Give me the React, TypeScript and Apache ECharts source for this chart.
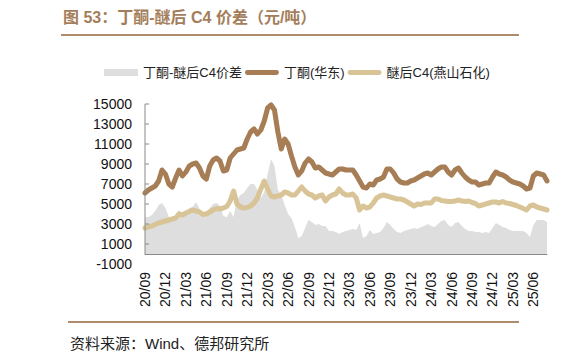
import React, { useEffect, useRef } from "react";
import * as echarts from "echarts";

// semi-monthly sample dates, 2020-09-01 .. 2025-08-01
const dates: string[] = [];
for (let m = 0; m < 60; m++) {
  const y = 2020 + Math.floor((8 + m) / 12);
  const mo = ((8 + m) % 12) + 1;
  const mm = mo < 10 ? "0" + mo : "" + mo;
  dates.push(`${y}-${mm}-01`);
  if (m < 59) dates.push(`${y}-${mm}-16`);
}

const butanone = [
  6100, 6400, 6600, 6800, 7300, 8400, 8000, 7000, 6700, 7600,
  8400, 7800, 8200, 8800, 9000, 9100, 8600, 7800, 7500, 8800,
  9400, 9600, 9300, 8300, 8400, 9600, 10000, 10400, 10500, 10600,
  11500, 12200, 12500, 12000, 12400, 13300, 14600, 14900, 14400, 12200,
  10500, 11500, 11000, 9800, 8700, 7900, 8300, 9100, 9500, 9200,
  8600, 8700, 8400, 8100, 8000, 7900, 8200, 8500, 8500, 8400,
  8400, 8400, 7900, 7300, 6700, 6600, 7000, 6900, 7400, 7500,
  7700, 8500, 8500, 8100, 7500, 7200, 7100, 7100, 7300, 7400,
  7600, 7800, 8000, 8100, 7900, 8200, 8500, 8700, 8700, 8200,
  7900, 8400, 8600, 8100, 7700, 7400, 7200, 7200, 6900, 7000,
  7100, 7100, 7700, 8200, 8000, 7900, 7700, 7400, 7200, 7100,
  7000, 6800, 6500, 6600, 7800, 8100, 8000, 7900, 7300,
];

const c4 = [
  2600, 2700, 2800, 2950, 3100, 3200, 3300, 3400, 3500, 3600,
  4000, 3900, 4100, 4250, 4400, 4300, 4200, 3950, 4000, 4200,
  4400, 4550, 4500, 4600, 4750, 5300, 6300, 5000, 4700, 4600,
  4650, 4800, 5100, 5600, 6500, 7300, 6500, 5800, 5700, 5800,
  5900, 6200, 6100, 5900, 5900, 6300, 6700, 6300, 6000, 5900,
  5600, 5800, 5900, 5300, 5700, 5900, 6000, 6500, 6100, 5900,
  5900, 6000, 5600, 4400, 4800, 4600, 4700, 5100, 5600, 5800,
  5900, 5800, 5700, 5600, 5500, 5500, 5400, 5200, 5000, 4800,
  5000, 4950, 5100, 5100, 5100, 5500, 5500, 5350, 5300, 5250,
  5250, 5300, 5400, 5300, 5250, 5300, 5150, 5050, 4800, 4900,
  5000, 5100, 5200, 5200, 5100, 5250, 5100, 5050, 4950, 4850,
  4700, 4550, 4400, 4800, 4900, 4700, 4600, 4500, 4400,
];

const spread = [
  3700, 3700, 3900, 4300, 4900, 5100, 4600, 3700, 3300, 4000,
  4400, 3800, 4100, 4600, 4700, 5200, 4500, 3900, 3700, 4600,
  5000, 5100, 4800, 3800, 3700, 4300, 3700, 5400, 5900, 6100,
  6600, 7000, 7000, 6400, 5600, 6200, 8000, 9500, 8800, 6400,
  5900, 4900, 4000, 3600, 2700, 1600, 1800, 2600, 3400, 3200,
  2900, 3000, 2800, 2800, 2300, 2300, 2200, 2000, 2200, 2300,
  2400, 2500, 2400, 3100, 1600, 1800, 2400, 2000, 2100, 2200,
  2600, 3200, 2900, 2500, 2200, 2100, 2300, 2400, 2500, 2600,
  2500, 2700, 2800, 3000, 2800, 2700, 3000, 3300, 3400, 2900,
  2700, 3100, 3200, 2800, 2500, 2300, 2300, 2200, 2200, 2100,
  2200, 2100, 2600, 3100, 2900, 2700, 2600, 2400, 2300, 2300,
  2300, 2300, 2100, 1700, 2900, 3400, 3400, 3400, 3200,
];

const yTickValues = [1000, 3000, 5000, 7000, 9000, 11000, 13000, 15000];

const seriesNames = ["丁酮-醚后C4价差", "丁酮(华东)", "醚后C4(燕山石化)"];
const titleText = "图 53：丁酮-醚后 C4 价差（元/吨）";
const sourceText = "资料来源：Wind、德邦研究所";

const FONT = "'Liberation Sans', Arial, 'Noto Sans CJK SC', sans-serif";
const AXIS_COLOR = "#8a8a8a";
const BROWN = "#a67d55";
const TAN = "#d9c498";
const GRAY = "#dedede";
const LINE_ICON =
  "path://M2.5,0 L32.5,0 A2.5,2.5 0 0 1 32.5,5 L2.5,5 A2.5,2.5 0 0 1 2.5,0 Z";

function isQuarterStart(value: string) {
  const mo = value.slice(5, 7);
  return value.slice(8) === "01" && (mo === "03" || mo === "06" || mo === "09" || mo === "12");
}

export default function App() {
  const ref = useRef<HTMLDivElement>(null);
  useEffect(() => {
    if (!ref.current) return;
    const chart = echarts.init(ref.current, undefined, { renderer: "svg" });
    chart.setOption({
      animation: false,
      backgroundColor: "#ffffff",
      textStyle: { fontFamily: FONT },
      graphic: [
        {
          type: "text",
          x: 63,
          y: 17.5,
          style: {
            text: titleText,
            fontSize: 16,
            fontWeight: "bold",
            fontFamily: FONT,
            fill: "#a47e5b",
            textVerticalAlign: "middle",
          },
        },
        {
          type: "line",
          shape: { x1: 61, y1: 35, x2: 519, y2: 35 },
          style: { stroke: "#ad8b6b", lineWidth: 2 },
        },
        {
          type: "line",
          shape: { x1: 68, y1: 322, x2: 519, y2: 322 },
          style: { stroke: "#ad8b6b", lineWidth: 2 },
        },
        {
          type: "text",
          x: 70,
          y: 343,
          style: {
            text: sourceText,
            fontSize: 15,
            fontFamily: FONT,
            fill: "#222",
            textVerticalAlign: "middle",
          },
        },
      ],
      legend: {
        left: 99,
        top: 61,
        itemWidth: 34,
        itemHeight: 7,
        itemGap: 3,
        textStyle: { fontSize: 13, color: "#222", fontFamily: FONT },
        data: [
          { name: seriesNames[0], icon: "rect", itemStyle: { color: GRAY } },
          { name: seriesNames[1], icon: LINE_ICON, itemStyle: { color: BROWN } },
          { name: seriesNames[2], icon: LINE_ICON, itemStyle: { color: TAN } },
        ],
      },
      grid: { left: 145, right: 35, top: 104, bottom: 95, containLabel: false },
      xAxis: {
        type: "category",
        data: dates,
        boundaryGap: false,
        axisLine: { onZero: true, lineStyle: { color: AXIS_COLOR, width: 1 } },
        axisTick: {
          inside: true,
          length: 4,
          lineStyle: { color: AXIS_COLOR },
          interval: (_i: number, v: string) => isQuarterStart(v),
        },
        axisLabel: {
          rotate: 90,
          margin: 8,
          fontSize: 14,
          color: "#111",
          fontFamily: FONT,
          interval: (_i: number, v: string) => isQuarterStart(v),
          formatter: (v: string) => v.slice(2, 4) + "/" + v.slice(5, 7),
        },
        splitLine: { show: false },
      },
      yAxis: {
        type: "value",
        min: -1000,
        max: 15000,
        interval: 2000,
        axisLine: { show: false },
        axisTick: { show: false },
        axisLabel: {
          fontSize: 14,
          color: "#111",
          margin: 13,
          fontFamily: FONT,
          formatter: (v: number) => String(v),
        },
        splitLine: { show: false },
      },
      series: [
        {
          name: seriesNames[0],
          type: "line",
          data: spread,
          showSymbol: false,
          symbol: "none",
          lineStyle: { width: 0, color: GRAY },
          itemStyle: { color: GRAY },
          areaStyle: { color: GRAY, opacity: 1 },
          z: 1,
        },
        {
          name: seriesNames[1],
          type: "line",
          data: butanone,
          showSymbol: false,
          symbol: "none",
          lineStyle: { width: 5, color: BROWN, cap: "round", join: "round" },
          itemStyle: { color: BROWN },
          z: 3,
        },
        {
          name: seriesNames[2],
          type: "line",
          data: c4,
          showSymbol: false,
          symbol: "none",
          lineStyle: { width: 5, color: TAN, cap: "round", join: "round" },
          itemStyle: { color: TAN },
          z: 2,
        },
        {
          name: "yaxis",
          type: "custom",
          silent: true,
          z: 5,
          data: yTickValues.map((v) => [0, v]),
          renderItem: (params: any, api: any) => {
            const p = api.coord([0, api.value(1)]);
            const children: any[] = [
              {
                type: "line",
                shape: { x1: p[0], y1: p[1], x2: p[0] + 4, y2: p[1] },
                style: { stroke: AXIS_COLOR, lineWidth: 1 },
              },
            ];
            if (params.dataIndex === yTickValues.length - 1) {
              const a = api.coord([0, 0]);
              children.push({
                type: "line",
                shape: { x1: a[0], y1: a[1], x2: p[0], y2: p[1] },
                style: { stroke: AXIS_COLOR, lineWidth: 1 },
              });
            }
            return { type: "group", children };
          },
        },
      ],
    });
    return () => chart.dispose();
  }, []);
  return (
    <div
      ref={ref}
      style={{ position: "absolute", left: 0, top: 0, width: 582, height: 359 }}
    />
  );
}
